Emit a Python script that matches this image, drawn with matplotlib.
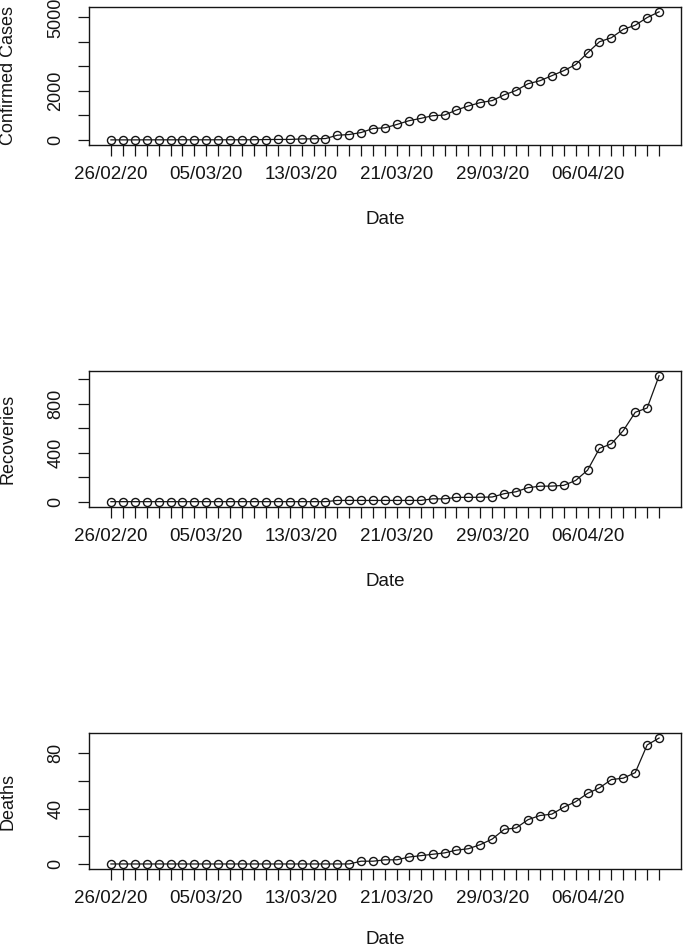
import matplotlib
matplotlib.use("Agg")
import matplotlib.pyplot as plt
import pandas as pd

plt.rcParams['font.family'] = ['Liberation Sans', 'DejaVu Sans']

# ---- data ----
dates = pd.date_range('2020-02-26', '2020-04-12', freq='D')
x_tick_labels = ['26/02/20', '05/03/20', '13/03/20', '21/03/20', '29/03/20', '06/04/20']
x_label_step = 8

confirmed = [2, 2, 2, 4, 4, 4, 5, 5, 5, 6, 6, 6, 6, 16, 19, 20,
             40, 45, 55,
             192, 220, 302, 466, 494, 631, 782, 878, 988, 1015, 1221, 1385,
             1523, 1605, 1838, 2016, 2291, 2414, 2620, 2826, 3073, 3553,
             4005, 4170, 4513, 4678, 4993, 5226]
recoveries = [0] * 19 + [10, 10, 10, 10, 10, 10, 10, 10,
              23, 23, 35, 35, 36, 38,
              65, 81, 114, 126, 127, 133, 173, 257, 434, 472, 580, 729, 764, 1027]
deaths = [0] * 21 + [2, 2, 3, 3, 5, 6, 7, 8, 10, 11, 14, 18, 25, 26, 32, 35, 36,
                     41, 45, 51, 55, 61, 62, 66, 86, 91]

conf_yticks = [0, 1000, 2000, 3000, 4000, 5000]
conf_ylabels = ['0', '', '2000', '', '', '5000']
rec_yticks = [0, 200, 400, 600, 800, 1000]
rec_ylabels = ['0', '', '400', '', '800', '']
death_yticks = [0, 20, 40, 60, 80]
death_ylabels = ['0', '', '40', '', '80']

series = [
    ('Confirmed Cases', confirmed, conf_yticks, conf_ylabels),
    ('Recoveries', recoveries, rec_yticks, rec_ylabels),
    ('Deaths', deaths, death_yticks, death_ylabels),
]

# ---- layout (pixels) ----
W, H = 683, 950
left_px, right_px = 89, 681
panels = [(6.7, 145.0), (370.7, 506.7), (733.0, 869.0)]
ink = '#151515'

fig = plt.figure(figsize=(W / 100, H / 100), dpi=100)

n = len(dates)
xs = list(range(n))
full_xlabels = []
k = 0
for i in range(n):
    if i % x_label_step == 0 and k < len(x_tick_labels):
        full_xlabels.append(x_tick_labels[k])
        k += 1
    else:
        full_xlabels.append('')

for (name, vals, yt, yl), (top, bot) in zip(series, panels):
    ax = fig.add_axes([left_px / W, 1 - bot / H, (right_px - left_px) / W, (bot - top) / H])
    ax.plot(xs, vals, '-o', color=ink, lw=0.9, ms=5.8, mfc='none', mec=ink, mew=1.0)
    ax.margins(x=0.04, y=0.04)
    ax.set_xticks(xs)
    ax.set_xticklabels(full_xlabels, fontsize=13.5, color=ink)
    ax.set_yticks(yt)
    ax.set_yticklabels(yl, rotation=90, va='center', fontsize=13, color=ink)
    ax.tick_params(axis='both', direction='out', length=7.9, width=0.9, color=ink)
    ax.tick_params(axis='x', pad=7.5)
    ax.tick_params(axis='y', pad=10.0)
    for sp in ax.spines.values():
        sp.set_linewidth(1.0)
        sp.set_color(ink)
    fig.text(8.5 / W, 1 - (top + bot) / 2 / H, name, rotation=90, ha='center', va='center',
             fontsize=13, color=ink)
    date_y = min(bot + 75, 939.5)
    fig.text((left_px + right_px) / 2 / W, 1 - date_y / H, 'Date', ha='center', va='center',
             fontsize=13.5, color=ink)

fig.savefig('out.png', dpi=100)
